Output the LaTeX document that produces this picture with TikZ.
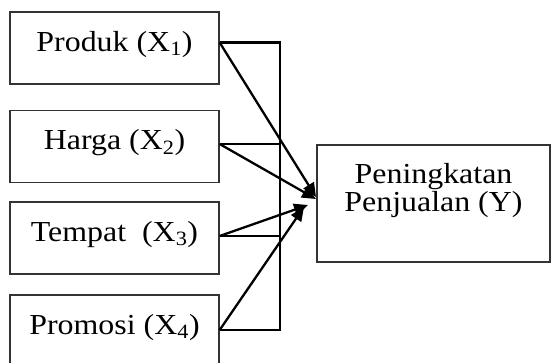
\documentclass[tikz,border=0pt]{standalone}
\usepackage{fontspec}
\setmainfont{Liberation Serif}[FakeStretch=1.1]
\usetikzlibrary{arrows.meta}

\begin{document}
\begin{tikzpicture}[x=1pt,y=-1pt,
  varbox/.style={draw=black!80,line width=1.3pt,minimum width=209pt,minimum height=72pt,
    inner sep=0pt,text height=24pt,text depth=18pt,font=\fontsize{29}{28.4}\selectfont},
  ybox/.style={draw=black!80,line width=1.3pt,minimum width=233pt,minimum height=117pt,
    inner sep=0pt,align=center,text height=48.4pt,text depth=32pt,font=\fontsize{29}{28.4}\selectfont},
  link/.style={line width=2.3pt},
  arr/.style={link,-{Triangle[length=14pt,width=12pt]}}]
\useasboundingbox (0,0) rectangle (552,362);

% we draw the four boxes on the left
\node[varbox] (produk) at (114.5,48) {Produk (X\textsubscript{1})};
\node[varbox] (harga) at (114.5,146.5) {Harga (X\textsubscript{2})};
\node[varbox] (tempat) at (114.5,238) {Tempat~ (X\textsubscript{3})};
\node[varbox] (promosi) at (114.5,331) {Promosi (X\textsubscript{4})};

% the box on the right
\node[ybox] (y) at (433.5,203.5) {Peningkatan\\Penjualan (Y)};

% start points and the bus line
\coordinate (s1) at ([yshift=5.5pt]produk.east);
\coordinate (s2) at ([yshift=2.5pt]harga.east);
\coordinate (s3) at ([yshift=2pt]tempat.east);
\coordinate (s4) at ([yshift=1pt]promosi.east);
\coordinate (bus) at (280,0);

\draw[link] (s1) -- (s1 -| bus) -- (s4 -| bus) -- (s4);
\draw[link] (s2) -- (s2 -| bus);
\draw[link] (s3) -- (s3 -| bus);

% arrow ends
\coordinate (t1) at (316,197);
\coordinate (t2) at (316,199);
\coordinate (t3) at (308,205);
\coordinate (t4) at (304,207);

% we add the arrows
\draw[arr] (s1) -- (t1);
\draw[arr] (s2) -- (t2);
\draw[arr] (s3) -- (t3);
\draw[arr] (s4) -- (t4);

\end{tikzpicture}
\end{document}
